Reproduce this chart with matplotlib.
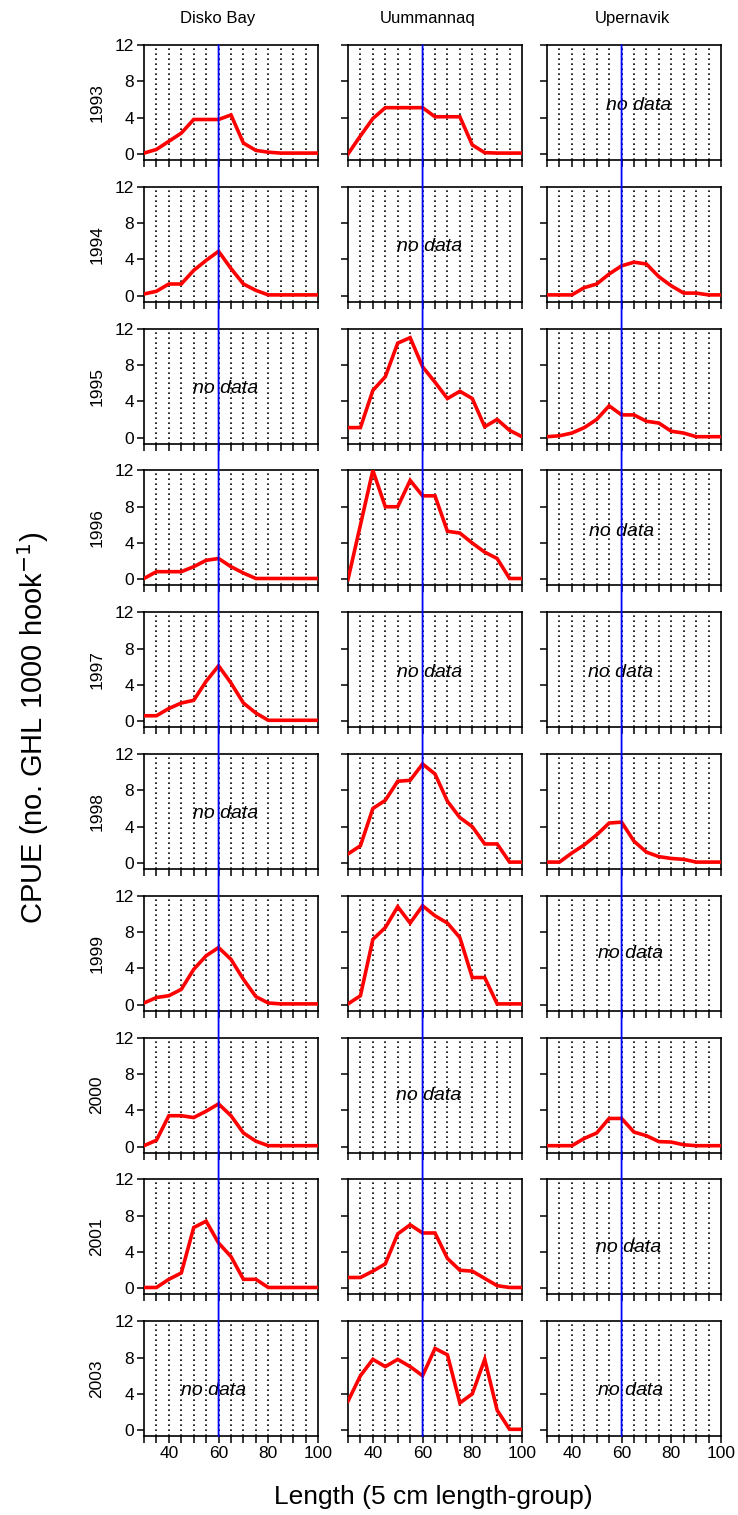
import matplotlib
matplotlib.use("Agg")
import matplotlib.pyplot as plt
from matplotlib.patches import ConnectionPatch

plt.rcParams['font.family'] = ['Liberation Sans', 'DejaVu Sans']

regions = ['Disko Bay', 'Uummannaq', 'Upernavik']
years = ['1993', '1994', '1995', '1996', '1997', '1998', '1999', '2000', '2001', '2003']
length = [30, 35, 40, 45, 50, 55, 60, 65, 70, 75, 80, 85, 90, 95, 100]

# CPUE per length group, None = no data
disko = [
    [0.1, 0.5, 1.4, 2.3, 3.8, 3.8, 3.8, 4.3, 1.2, 0.4, 0.2, 0.1, 0.1, 0.1, 0.1],
    [0.2, 0.5, 1.3, 1.3, 2.8, 3.9, 4.9, 3.0, 1.3, 0.6, 0.1, 0.1, 0.1, 0.1, 0.1],
    None,
    [0.1, 0.85, 0.85, 0.85, 1.4, 2.1, 2.3, 1.4, 0.7, 0.1, 0.1, 0.1, 0.1, 0.1, 0.1],
    [0.6, 0.6, 1.4, 2.0, 2.3, 4.4, 6.1, 4.2, 2.0, 0.9, 0.1, 0.1, 0.1, 0.1, 0.1],
    None,
    [0.2, 0.8, 1.0, 1.7, 3.9, 5.4, 6.3, 5.0, 2.8, 0.9, 0.2, 0.1, 0.1, 0.1, 0.1],
    [0.1, 0.7, 3.4, 3.4, 3.2, 3.9, 4.7, 3.4, 1.5, 0.6, 0.1, 0.1, 0.1, 0.1, 0.1],
    [0.1, 0.1, 1.0, 1.7, 6.7, 7.4, 5.0, 3.5, 1.0, 1.0, 0.1, 0.1, 0.1, 0.1, 0.1],
    None,
]
uummannaq = [
    [0.0, 2.0, 3.9, 5.1, 5.1, 5.1, 5.1, 4.1, 4.1, 4.1, 1.0, 0.15, 0.1, 0.1, 0.1],
    None,
    [1.1, 1.1, 5.2, 6.7, 10.4, 11.0, 7.8, 6.1, 4.3, 5.1, 4.3, 1.2, 2.0, 0.8, 0.1],
    [0.0, 6.0, 12.0, 8.0, 8.0, 10.9, 9.2, 9.2, 5.3, 5.1, 4.0, 3.0, 2.3, 0.1, 0.1],
    None,
    [1.0, 1.9, 6.0, 6.9, 9.0, 9.1, 10.9, 9.8, 6.8, 5.0, 4.0, 2.1, 2.1, 0.1, 0.1],
    [0.1, 1.0, 7.2, 8.5, 10.8, 9.0, 10.9, 9.8, 9.0, 7.4, 3.0, 3.0, 0.1, 0.1, 0.1],
    None,
    [1.2, 1.2, 1.9, 2.7, 6.0, 7.0, 6.1, 6.1, 3.3, 2.0, 1.9, 1.1, 0.3, 0.1, 0.1],
    [3.2, 6.0, 7.8, 7.0, 7.8, 7.0, 6.0, 9.0, 8.3, 3.0, 4.0, 7.8, 2.2, 0.1, 0.1],
]
upernavik = [
    None,
    [0.1, 0.1, 0.1, 0.9, 1.3, 2.4, 3.3, 3.7, 3.5, 2.1, 1.1, 0.3, 0.3, 0.1, 0.1],
    [0.1, 0.2, 0.5, 1.1, 2.0, 3.5, 2.5, 2.5, 1.8, 1.6, 0.7, 0.5, 0.1, 0.1, 0.1],
    None,
    None,
    [0.1, 0.1, 1.1, 2.0, 3.1, 4.4, 4.5, 2.4, 1.2, 0.7, 0.5, 0.4, 0.1, 0.1, 0.1],
    None,
    [0.1, 0.1, 0.1, 0.9, 1.5, 3.1, 3.1, 1.6, 1.2, 0.55, 0.5, 0.2, 0.1, 0.1, 0.1],
    None,
    None,
]
series = [disko, uummannaq, upernavik]

# where the "no data" note sits in each empty panel (x, y)
nodata_pos = {
    (0, 2): (63, 5.4), (0, 5): (63, 5.4), (0, 9): (58, 4.4),
    (1, 1): (63, 5.4), (1, 4): (63, 5.4), (1, 7): (62.5, 5.6),
    (2, 0): (67, 5.3), (2, 3): (60, 5.3), (2, 4): (59.5, 5.4),
    (2, 6): (63.5, 5.6), (2, 8): (63, 4.5), (2, 9): (63.5, 4.4),
}

W, H = 738, 1515
fig = plt.figure(figsize=(W / 100, H / 100), dpi=100)

col_left = [144, 348, 547]
title_x = [218, 428, 632]
ax_w = 174
ax_h = 115
row_top0 = 45
pitch = 141.8

axes = [[None] * len(years) for _ in regions]
for c in range(len(regions)):
    for r in range(len(years)):
        top = row_top0 + r * pitch
        ax = fig.add_axes([col_left[c] / W, 1 - (top + ax_h) / H, ax_w / W, ax_h / H])
        axes[c][r] = ax
        ax.set_xlim(30, 100)
        ax.set_ylim(-0.66, 12)
        for gx in range(35, 100, 5):
            ax.axvline(gx, color='black', lw=1.2, ls=(0, (1, 2.0)), zorder=1)
        data = series[c][r]
        if data is not None:
            ax.plot(length, data, color='red', lw=2.6, zorder=3, solid_joinstyle='miter')
        else:
            tx, ty = nodata_pos[(c, r)]
            ax.text(tx, ty, 'no data', style='italic', fontsize=14, ha='center',
                    va='center', zorder=4)
        ax.set_xticks([40, 60, 80, 100])
        ax.set_xticks(range(30, 101, 5), minor=True)
        ax.set_yticks([0, 4, 8, 12])
        ax.tick_params(axis='both', which='both', direction='out', length=5, width=1.1,
                       labelsize=12.5, pad=2)
        for s in ax.spines.values():
            s.set_linewidth(1.2)
        if c > 0:
            ax.set_yticklabels([])
        if r < len(years) - 1:
            ax.set_xticklabels([])
        if c == 0:
            ax.text(-0.27, 0.5, years[r], transform=ax.transAxes, rotation=90,
                    ha='center', va='center', fontsize=12.5)

for c in range(len(regions)):
    fig.text(title_x[c] / W, 1 - 18 / H, regions[c], ha='center', va='center',
             fontsize=12)

# blue reference line at 60 cm through each column
for c in range(len(regions)):
    con = ConnectionPatch(xyA=(60, 12), coordsA=axes[c][0].transData,
                          xyB=(60, -0.66), coordsB=axes[c][-1].transData,
                          color='blue', lw=1.3, zorder=10)
    fig.add_artist(con)

fig.text(33 / W, 1 - 728 / H, 'CPUE (no. GHL 1000 hook$^{-1}$)', rotation=90,
         ha='center', va='center', fontsize=21)
fig.text(433 / W, 1 - 1497 / H, 'Length (5 cm length-group)', ha='center',
         va='center', fontsize=19)

fig.savefig('out.png', dpi=100, facecolor='white')
